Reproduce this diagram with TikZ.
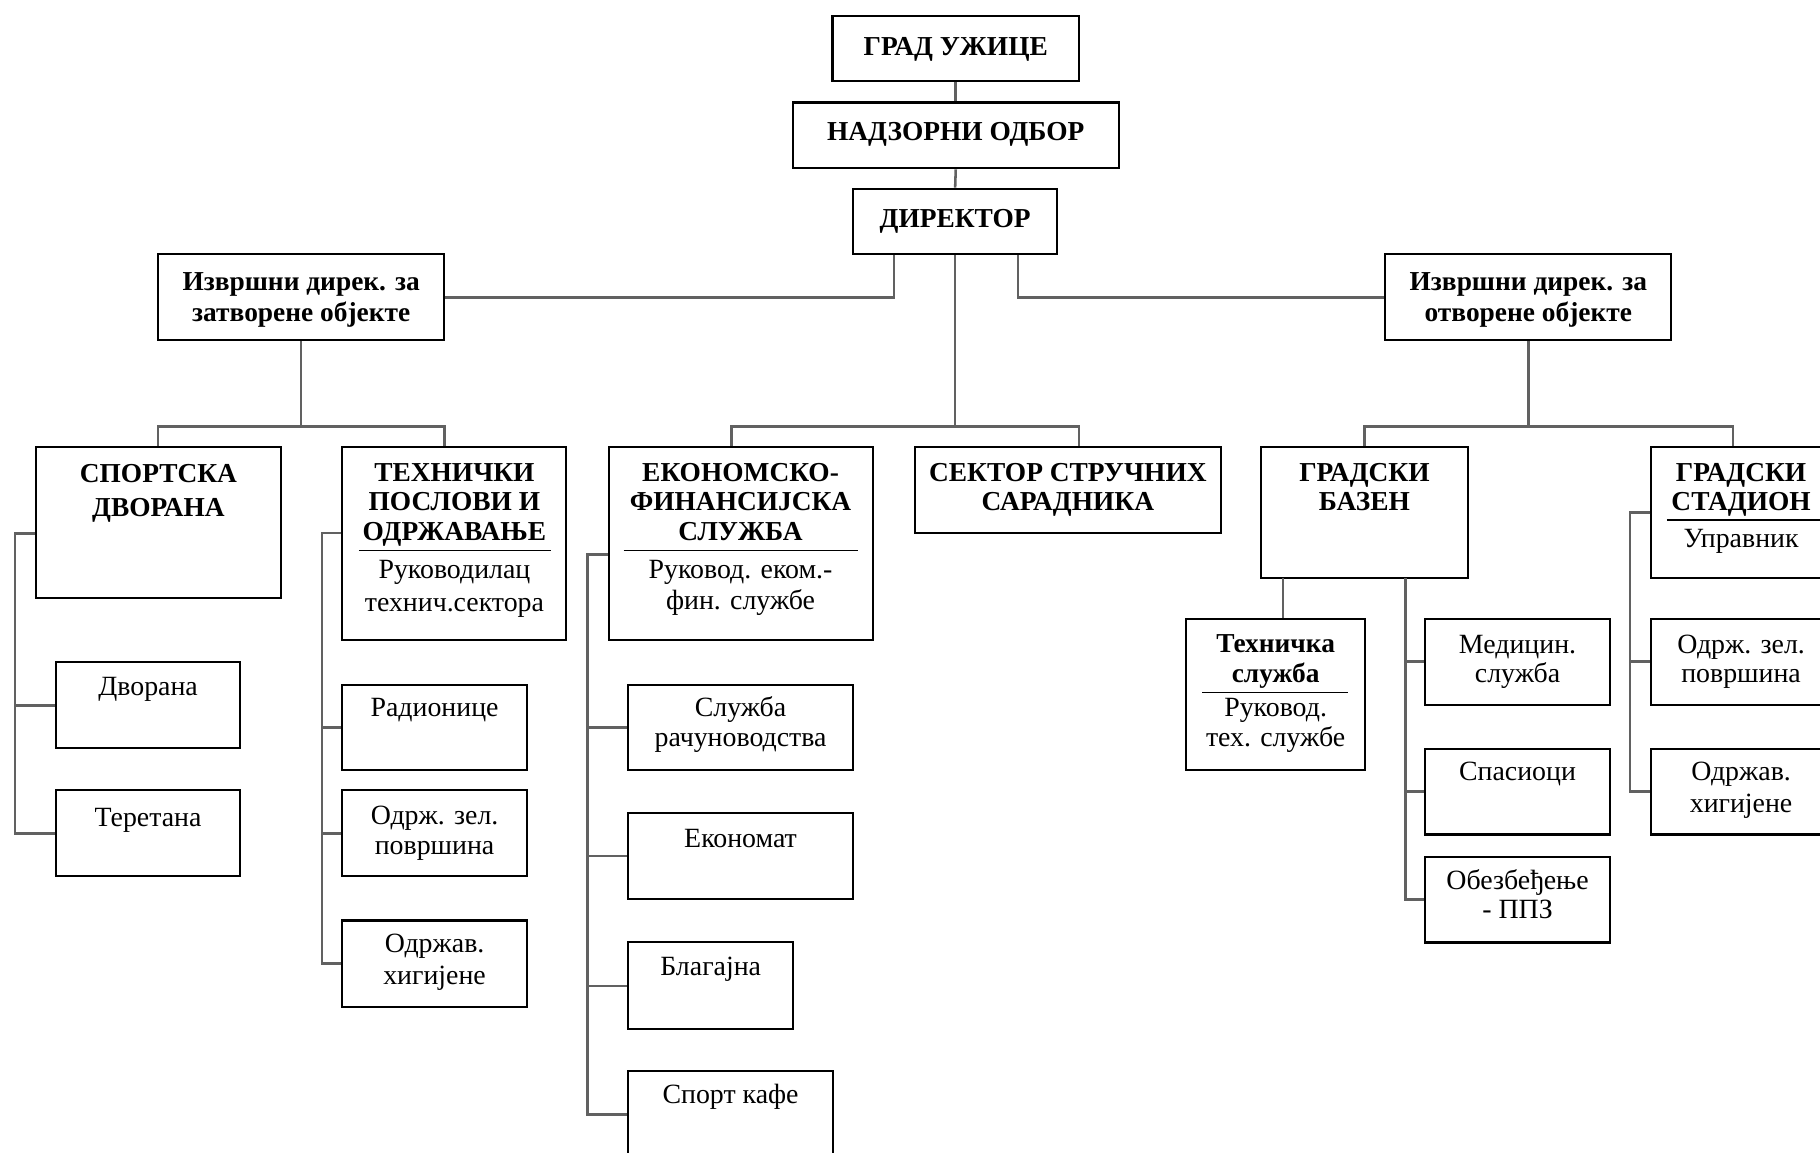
\documentclass[tikz,border=0pt]{standalone}
\usepackage{fontspec}
\setmainfont{Liberation Serif}
\usetikzlibrary{fit}
\begin{document}
\begin{tikzpicture}[x=0.5pt,y=-0.5pt,
 box/.style={draw=black, line width=0.9pt, inner sep=0pt},
 conn/.style={draw=black!62, line width=1.1pt},
 sepl/.style={draw=black, line width=0.8pt},
 bt/.style={anchor=base, inner sep=0pt, font=\fontsize{11.8}{13}\selectfont\bfseries},
 nt/.style={anchor=base, inner sep=0pt, font=\fontsize{12}{13}\selectfont},
]
\useasboundingbox (0,0) rectangle (1568,992.5);
% boxes
\node[box, fit={(717.2,14)(929.6,70.1)}] (grad) {};
\node[box, fit={(682.8,88.3)(964,145)}] (nadz) {};
\node[box, fit={(734.9,162.6)(910.9,219)}] (dir) {};
\node[box, fit={(136.2,219)(382.8,293.2)}] (exL) {};
\node[box, fit={(1193.3,219)(1440,293.2)}] (exR) {};
\node[box, fit={(31.3,385)(241.8,515)}] (sport) {};
\node[box, fit={(294.9,385)(488,551.4)}] (teh) {};
\node[box, fit={(524.4,385)(751.9,551.4)}] (eko) {};
\node[box, fit={(788,385)(1052,459)}] (sek) {};
\node[box, fit={(1086.7,385)(1264.4,497.8)}] (baz) {};
\node[box, fit={(1422.7,385)(1578,497.8)}] (stad) {};
\node[box, fit={(48.3,570.6)(207,644.8)}] (dvor) {};
\node[box, fit={(48.3,680.9)(207,755)}] (ter) {};
\node[box, fit={(294.9,589.8)(453.9,663.6)}] (rad) {};
\node[box, fit={(294.9,680.9)(453.9,755)}] (odz1) {};
\node[box, fit={(294.9,793)(453.9,867.6)}] (odh1) {};
\node[box, fit={(541,589.8)(734.9,663.6)}] (rac) {};
\node[box, fit={(541,700.4)(734.9,774.2)}] (ekm) {};
\node[box, fit={(541,811.9)(683.5,886.7)}] (blag) {};
\node[box, fit={(541,922.5)(717.8,997.5)}] (kafe) {};
\node[box, fit={(1022,532.9)(1176.2,663.6)}] (tehs) {};
\node[box, fit={(1228,532.9)(1386.7,607)}] (med) {};
\node[box, fit={(1228,645.1)(1386.7,718.9)}] (spas) {};
\node[box, fit={(1228,738.1)(1386.7,812)}] (obez) {};
\node[box, fit={(1422.7,532.9)(1578,607)}] (odz2) {};
\node[box, fit={(1422.7,645.1)(1578,718.9)}] (odh2) {};
% separators
\draw[sepl] (309.2,474.3) -- (475,474.3);
\draw[sepl] (537.3,474.3) -- (739,474.3);
\draw[sepl] (1436,448.3) -- (1580,448.3);
\draw[sepl] (1035.6,596.6) -- (1161.5,596.6);
% bus coordinates
\coordinate (bA) at (630.3,367.6);
\coordinate (bB) at (929.6,367.6);
\coordinate (bL1) at (136.2,367.6);
\coordinate (bL2) at (382.8,367.6);
\coordinate (bR1) at (1175.5,367.6);
\coordinate (bR2) at (1492.9,367.6);
\coordinate (vS) at (12.9,459.6);
\coordinate (vTe) at (277.5,459);
\coordinate (vE) at (506.3,477.5);
\coordinate (vB) at (1211,497.8);
\coordinate (vT) at (1105.4,497.8);
\coordinate (vD) at (1404.4,441.6);
% connectors
\draw[conn] (grad.south) -- (nadz.north);
\draw[conn] (nadz.south) -- (dir.north);
\draw[conn] (dir.south west) ++(36.1,0) |- (exL.east);
\draw[conn] (dir.south east) ++(-34.7,0) |- (exR.west);
\draw[conn] (dir.south) |- (bA) -- (bA |- eko.north);
\draw[conn] (dir.south) |- (bB) -- (bB |- sek.north);
\draw[conn] (exL.south) |- (bL1) -- (bL1 |- sport.north);
\draw[conn] (exL.south) |- (bL2) -- (bL2 |- teh.north);
\draw[conn] (exR.south) |- (bR1) -- (bR1 |- baz.north);
\draw[conn] (exR.south) |- (bR2) -- (bR2 |- stad.north);
\draw[conn] (sport.west |- vS) -- (vS) |- (ter.west);
\draw[conn] (vS |- dvor.west) -- (dvor.west);
\draw[conn] (teh.west |- vTe) -- (vTe) |- (odh1.west);
\draw[conn] (vTe |- rad.west) -- (rad.west);
\draw[conn] (vTe |- odz1.west) -- (odz1.west);
\draw[conn] (eko.west |- vE) -- (vE) |- (kafe.west);
\draw[conn] (vE |- rac.west) -- (rac.west);
\draw[conn] (vE |- ekm.west) -- (ekm.west);
\draw[conn] (vE |- blag.west) -- (blag.west);
\draw[conn] (vB) |- (obez.west);
\draw[conn] (vB |- med.west) -- (med.west);
\draw[conn] (vB |- spas.west) -- (spas.west);
\draw[conn] (vT) -- (vT |- tehs.north);
\draw[conn] (stad.west |- vD) -- (vD) |- (odh2.west);
\draw[conn] (vD |- odz2.west) -- (odz2.west);
% texts
\node[bt] (t1) at (823.4,47.8) {ГРАД УЖИЦЕ};
\node[bt] (t2) at (823.4,121.1) {НАДЗОРНИ ОДБОР};
\node[bt] (t3) at (822.9,196) {ДИРЕКТОР};
\node[bt] (t4a) at (259.5,250.2) {Извршни дирек. за};
\node[bt] (t4b) at (259.5,277.3) {затворене објекте};
\node[bt] (t5a) at (1316.7,250.2) {Извршни дирек. за};
\node[bt] (t5b) at (1316.7,277.3) {отворене објекте};
\node[bt] (t6a) at (136.5,416) {СПОРТСКА};
\node[bt] (t6b) at (136.5,444.6) {ДВОРАНА};
\node[bt] (t7a) at (391.5,414.4) {ТЕХНИЧКИ};
\node[bt] (t7b) at (391.5,439.8) {ПОСЛОВИ И};
\node[bt] (t7c) at (391.5,465.3) {ОДРЖАВАЊЕ};
\node[nt] (t7d) at (391.5,498.7) {Руководилац};
\node[nt] (t7e) at (391.5,526.4) {технич.сектора};
\node[bt] (t8a) at (638,414.4) {ЕКОНОМСКО-};
\node[bt] (t8b) at (638,439.8) {ФИНАНСИЈСКА};
\node[bt] (t8c) at (638,465.3) {СЛУЖБА};
\node[nt] (t8d) at (638,498.7) {Руковод. еком.-};
\node[nt] (t8e) at (638,524.8) {фин. службе};
\node[bt] (t9a) at (920,414.4) {СЕКТОР СТРУЧНИХ};
\node[bt] (t9b) at (920,439.8) {САРАДНИКА};
\node[bt] (t10a) at (1175.5,414.4) {ГРАДСКИ};
\node[bt] (t10b) at (1175.5,439.8) {БАЗЕН};
\node[bt] (t11a) at (1500,414.4) {ГРАДСКИ};
\node[bt] (t11b) at (1500,439.8) {СТАДИОН};
\node[nt] (t11c) at (1500,471.8) {Управник};
\node[nt] (t12) at (127.6,599.6) {Дворана};
\node[nt] (t13) at (127.6,711.8) {Теретана};
\node[nt] (t14) at (374.4,617.4) {Радионице};
\node[nt] (t15a) at (374.4,710.2) {Одрж. зел.};
\node[nt] (t15b) at (374.4,736.2) {површина};
\node[nt] (t16a) at (374.4,820.7) {Одржав.};
\node[nt] (t16b) at (374.4,848.4) {хигијене};
\node[nt] (t17a) at (638,617.4) {Служба};
\node[nt] (t17b) at (638,643.5) {рачуноводства};
\node[nt] (t18) at (638,730.3) {Економат};
\node[nt] (t19) at (612.3,840.2) {Благајна};
\node[nt] (t20) at (629.4,950.8) {Спорт кафе};
\node[bt] (t21a) at (1099,562.2) {Техничка};
\node[bt] (t21b) at (1099,588.2) {служба};
\node[nt] (t21c) at (1099,617.5) {Руковод.};
\node[nt] (t21d) at (1099,643.5) {тех. службе};
\node[nt] (t22a) at (1307.4,563) {Медицин.};
\node[nt] (t22b) at (1307.4,588.2) {служба};
\node[nt] (t23) at (1307.4,672.7) {Спасиоци};
\node[nt] (t24a) at (1307.4,766) {Обезбеђење};
\node[nt] (t24b) at (1307.4,791.4) {- ППЗ};
\node[nt] (t25a) at (1500,563) {Одрж. зел.};
\node[nt] (t25b) at (1500,588.2) {површина};
\node[nt] (t26a) at (1500,672.7) {Одржав.};
\node[nt] (t26b) at (1500,699.7) {хигијене};
\end{tikzpicture}
\end{document}
